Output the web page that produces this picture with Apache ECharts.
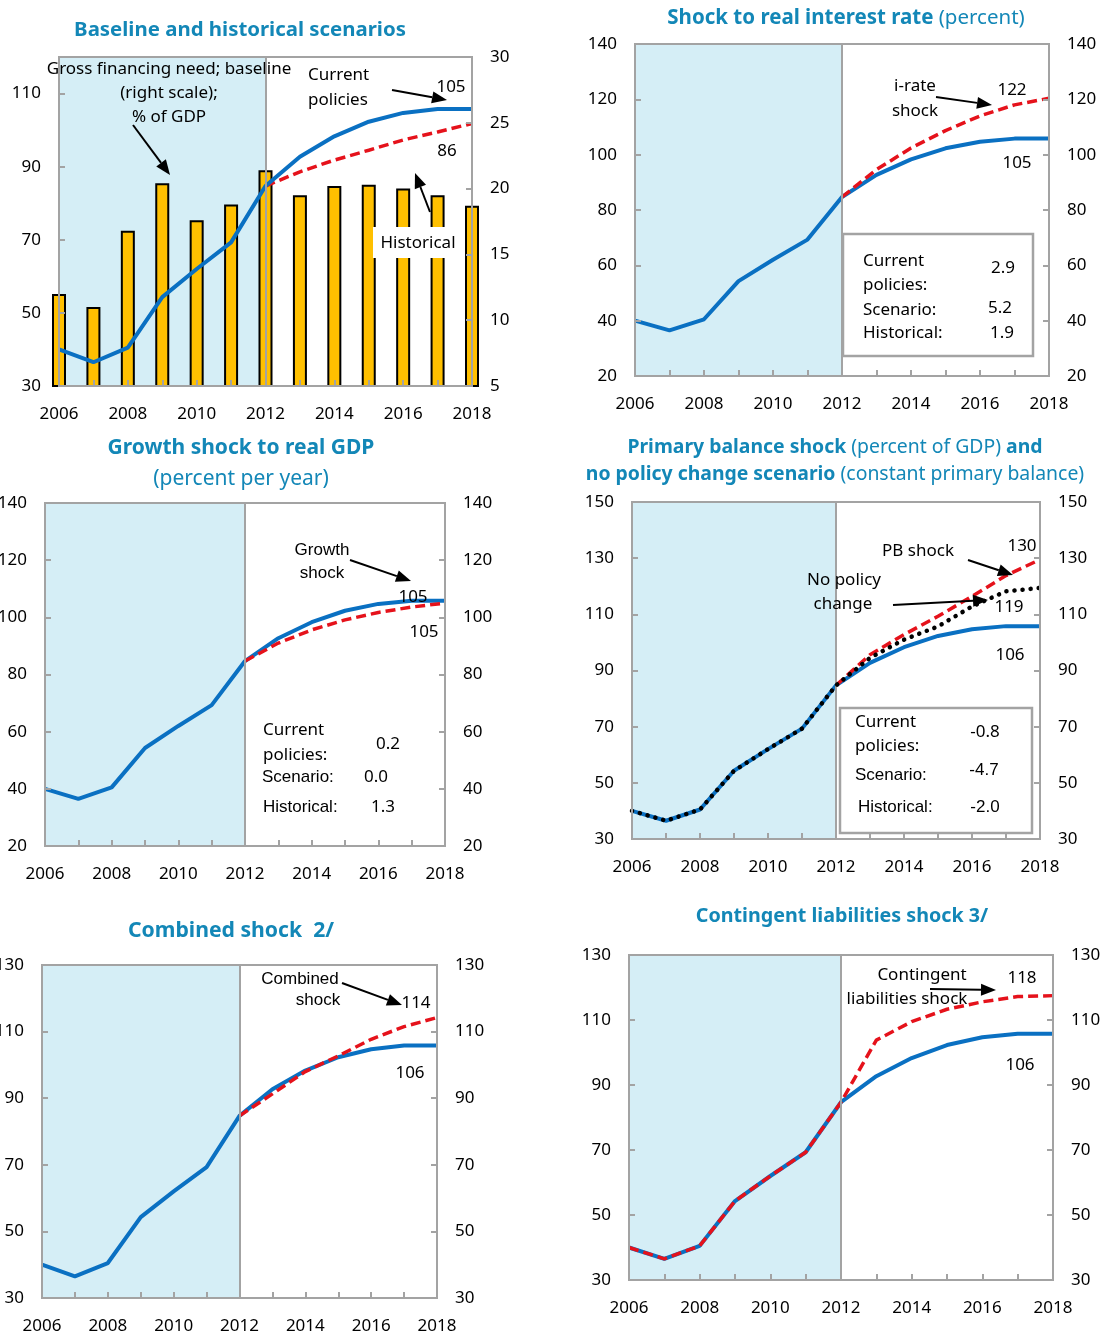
<!DOCTYPE html>
<html><head><meta charset="utf-8">
<script src="https://cdn.jsdelivr.net/npm/echarts@6/dist/echarts.min.js"></script>
<style>html,body{margin:0;padding:0;background:#fff}#c{width:1105px;height:1334px}</style>
</head><body><div id="c"></div>
<script>
// ---------------- data ----------------
const years = ['2006','2007','2008','2009','2010','2011','2012','2013','2014','2015','2016','2017','2018'];
const baselineDebt = [40, 36.5, 40.5, 54.3, 62, 69.3, 84.7, 92.7, 98.3, 102.3, 104.7, 105.8, 105.8];
const grossFinancingNeed = [12.0, 11.0, 16.8, 20.4, 17.6, 18.8, 21.4, 19.5, 20.2, 20.3, 20.0, 19.5, 18.7];
const historicalScenario = [null, null, null, null, null, null, 84.7, 88.6, 91.8, 94.5, 97.3, 99.5, 101.8];
const interestRateShock = [null, null, null, null, null, null, 84.7, 94.6, 102.4, 108.7, 114.0, 118.0, 120.4];
const growthShock = [null, null, null, null, null, null, 84.7, 91.0, 95.6, 99.1, 101.7, 103.6, 105.0];
const primaryBalanceShock = [null, null, null, null, null, null, 84.7, 95.6, 102.8, 109.3, 116.4, 123.8, 129.5];
const noPolicyChange = [40, 36.5, 40.5, 54.3, 62, 69.3, 84.7, 94.5, 101.0, 105.7, 112.8, 118.2, 119.4];
const combinedShock = [null, null, null, null, null, null, 84.7, 91.3, 98.0, 102.7, 107.7, 111.5, 114.2];
const contingentLiabilitiesShock = [40, 36.5, 40.5, 54.3, 62, 69.3, 84.7, 103.8, 109.5, 113.3, 115.6, 117.2, 117.5];

// axis ranges [min, max, interval] (left, right)
const leftAxes = [[30,120,20],[20,140,20],[20,140,20],[30,150,20],[30,130,20],[30,130,20]];
const rightAxes = [[5,30,5],[20,140,20],[20,140,20],[30,150,20],[30,130,20],[30,130,20]];

// ---------------- style ----------------
const FONT = '"Noto Sans", "Open Sans", sans-serif';
const ARIAL = '"Liberation Sans", Arial, sans-serif';
const GRAY = '#a3a3a3';
const BLUE = '#0a70c2';
const RED = '#e5121b';
const SHADE = '#d5eef6';
const TITLE = '#1387b7';

const grids = [
  {left:59, top:57, width:413, height:329},
  {left:635, top:44, width:414, height:332},
  {left:45, top:503, width:400, height:343},
  {left:632, top:502, width:408, height:337},
  {left:42, top:965, width:395, height:333},
  {left:629, top:955, width:424, height:325}
].map(g => Object.assign({show:true, borderColor:GRAY, borderWidth:2, backgroundColor:'transparent', z:10,
  containLabel:false, outerBoundsMode:'none'}, g));

const tickStyle = {show:true, inside:true, length:6, lineStyle:{color:GRAY, width:2}};
const yLbl = {color:'#000', fontSize:17, fontFamily:FONT, margin:18};
const xLbl = {color:'#000', fontSize:17, fontFamily:FONT, margin:20};

const xAxis = grids.map((g,i) => ({
  type:'category', gridIndex:i, data:years, boundaryGap:false, z:10,
  axisLine:{show:false}, axisTick:Object.assign({interval:0}, tickStyle),
  axisLabel:Object.assign({interval:1}, xLbl), splitLine:{show:false}
}));

const yAxis = [];
grids.forEach((g,i) => {
  const L = leftAxes[i], R = rightAxes[i];
  yAxis.push({type:'value', gridIndex:i, position:'left', min:L[0], max:L[1], interval:L[2], z:10,
    axisLine:{show:false}, axisTick:tickStyle, splitLine:{show:false},
    axisLabel:Object.assign({formatter: v => ((v - L[0]) % L[2] === 0 ? String(v) : '')}, yLbl)});
  yAxis.push({type:'value', gridIndex:i, position:'right', min:R[0], max:R[1], interval:R[2], z:10,
    axisLine:{show:false}, axisTick:tickStyle, splitLine:{show:false},
    axisLabel:Object.assign({formatter: v => ((v - R[0]) % R[2] === 0 ? String(v) : '')}, yLbl)});
});

const series = [];
grids.forEach((g,i) => {
  series.push({type:'line', xAxisIndex:i, yAxisIndex:2*i, data:[], z:1, silent:true,
    markArea:{silent:true, itemStyle:{color:SHADE}, data:[[{xAxis:'2006'},{xAxis:'2012'}]]},
    markLine:{silent:true, symbol:'none', label:{show:false}, lineStyle:{color:GRAY, width:2, type:'solid'}, data:[{xAxis:'2012'}]}
  });
});
function line(i, data, color, type, width, z, cap) {
  return {type:'line', xAxisIndex:i, yAxisIndex:2*i, data, symbol:'none', showSymbol:false, z, silent:true,
    lineStyle:{color, width, type, cap: cap || 'butt'}};
}
const DASH = [10,5];
// panel 1
series.push({type:'bar', xAxisIndex:0, yAxisIndex:1, data:grossFinancingNeed, barWidth:14, z:2, silent:true,
  itemStyle:{color:'#FFC000', borderColor:'#000', borderWidth:2}});
series.push(line(0, historicalScenario, RED, DASH, 3.5, 3));
series.push(line(0, baselineDebt, BLUE, 'solid', 4, 4));
// panel 2
series.push(line(1, baselineDebt, BLUE, 'solid', 4, 3));
series.push(line(1, interestRateShock, RED, DASH, 3.5, 4));
// panel 3
series.push(line(2, baselineDebt, BLUE, 'solid', 4, 3));
series.push(line(2, growthShock, RED, DASH, 3.5, 4));
// panel 4
series.push(line(3, baselineDebt, BLUE, 'solid', 4, 3));
series.push(line(3, primaryBalanceShock, RED, DASH, 3.5, 4));
series.push(line(3, noPolicyChange, '#000', [0.1, 8], 4.5, 5, 'round'));
// panel 5
series.push(line(4, baselineDebt, BLUE, 'solid', 4, 3));
series.push(line(4, combinedShock, RED, DASH, 3.5, 4));
// panel 6
series.push(line(5, baselineDebt, BLUE, 'solid', 4, 3));
series.push(line(5, contingentLiabilitiesShock, RED, DASH, 3.5, 4));

// ---------------- annotations ----------------
function txt(x, y, text, o) {
  o = o || {};
  return {type:'text', x, y, z:100, silent:true, style:{text, fill:'#000', fontSize:o.size||17,
    fontFamily:o.font||FONT, fontWeight:o.weight||'normal', align:o.align||'center', verticalAlign:'middle'}};
}
function title(x, y, text, size) {
  return {type:'text', x, y, z:100, silent:true, style:{text, align:'center', verticalAlign:'middle',
    fill:TITLE, fontSize:size, fontFamily:FONT,
    rich:{b:{fill:TITLE, fontSize:size, fontFamily:FONT, fontWeight:'bold'},
          n:{fill:TITLE, fontSize:size, fontFamily:FONT, fontWeight:'normal'}}}};
}
function arrow(x1, y1, x2, y2) {
  const head = 15, hw = 6;
  const dx = x2-x1, dy = y2-y1, L = Math.hypot(dx,dy), ux = dx/L, uy = dy/L;
  const bx = x2-ux*head, by = y2-uy*head;
  return [
    {type:'line', z:100, silent:true, shape:{x1, y1, x2:bx, y2:by}, style:{stroke:'#000', lineWidth:2}},
    {type:'polygon', z:100, silent:true, shape:{points:[[x2,y2],[bx-uy*hw, by+ux*hw],[bx+uy*hw, by-ux*hw]]}, style:{fill:'#000'}}
  ];
}
function box(x, y, w, h) {
  return {type:'rect', z:50, silent:true, shape:{x, y, width:w, height:h}, style:{fill:'#fff', stroke:GRAY, lineWidth:2.5}};
}

const graphic = [
  // titles
  title(240, 30, '{b|Baseline and historical scenarios}', 20.4),
  title(846, 18, '{b|Shock to real interest rate}{n| (percent)}', 20.5),
  title(241, 448, '{b|Growth shock to real GDP}', 21),
  title(241, 479, '{n|(percent per year)}', 21),
  title(835, 447, '{b|Primary balance shock}{n| (percent of GDP) }{b|and}', 19.4),
  title(835, 474, '{b|no policy change scenario}{n| (constant primary balance)}', 19.4),
  title(231, 931, '{b|Combined shock  2/}', 21.2),
  title(842, 916, '{b|Contingent liabilities shock 3/}', 19.7),
  // panel 1
  txt(169, 69, 'Gross financing need; baseline'),
  txt(169, 93, '(right scale);'),
  txt(169, 117, '% of GDP'),
  ...arrow(133, 125, 170, 175),
  txt(308, 75, 'Current', {align:'left'}),
  txt(308, 100, 'policies', {align:'left'}),
  ...arrow(392, 90, 447, 100),
  txt(451, 87, '105'),
  txt(447, 151, '86'),
  {type:'rect', z:60, silent:true, shape:{x:373, y:227, width:84, height:31}, style:{fill:'#fff'}},
  txt(418, 243, 'Historical'),
  ...arrow(430, 212, 415, 173),
  // panel 2
  txt(915, 86, 'i-rate'),
  txt(915, 111, 'shock'),
  ...arrow(936, 97, 992, 105),
  txt(1012, 90, '122'),
  txt(1017, 163, '105'),
  box(843, 234, 190, 122),
  txt(863, 261, 'Current', {align:'left'}),
  txt(863, 285, 'policies:', {align:'left'}),
  txt(863, 310, 'Scenario:', {align:'left'}),
  txt(863, 333, 'Historical:', {align:'left'}),
  txt(1003, 268, '2.9'),
  txt(1000, 308, '5.2'),
  txt(1002, 333, '1.9'),
  // panel 3
  txt(322, 550, 'Growth', {font:ARIAL}),
  txt(322, 573, 'shock', {font:ARIAL}),
  ...arrow(350, 560, 411, 581),
  txt(413, 597, '105'),
  txt(424, 632, '105'),
  txt(263, 730, 'Current', {align:'left'}),
  txt(263, 755, 'policies:', {align:'left'}),
  txt(388, 744, '0.2'),
  txt(262, 777, 'Scenario:', {align:'left', font:ARIAL}),
  txt(376, 777, '0.0'),
  txt(263, 807, 'Historical:', {align:'left', font:ARIAL}),
  txt(383, 807, '1.3'),
  // panel 4
  txt(918, 551, 'PB shock'),
  txt(1022, 546, '130'),
  ...arrow(968, 560, 1013, 575),
  txt(844, 580, 'No policy'),
  txt(843, 604, 'change'),
  ...arrow(893, 605, 988, 600),
  txt(1009, 607, '119'),
  txt(1010, 655, '106'),
  box(840, 708, 192, 125),
  txt(855, 722, 'Current', {align:'left'}),
  txt(855, 746, 'policies:', {align:'left'}),
  txt(985, 732, '-0.8'),
  txt(855, 775, 'Scenario:', {align:'left', font:ARIAL}),
  txt(984, 770, '-4.7', {font:ARIAL}),
  txt(858, 807, 'Historical:', {align:'left', font:ARIAL}),
  txt(985, 807, '-2.0', {font:ARIAL}),
  // panel 5
  txt(300, 979, 'Combined', {font:ARIAL}),
  txt(318, 1000, 'shock', {font:ARIAL}),
  ...arrow(342, 983, 402, 1005),
  txt(416, 1003, '114'),
  txt(410, 1073, '106'),
  // panel 6
  txt(922, 975, 'Contingent'),
  txt(907, 999, 'liabilities shock'),
  ...arrow(930, 989, 996, 990),
  txt(1022, 978, '118'),
  txt(1020, 1065, '106')
];

const chart = echarts.init(document.getElementById('c'), null, {renderer:'canvas'});
chart.setOption({
  animation:false,
  backgroundColor:'#fff',
  grid:grids, xAxis, yAxis, series, graphic
});
</script>
</body></html>
